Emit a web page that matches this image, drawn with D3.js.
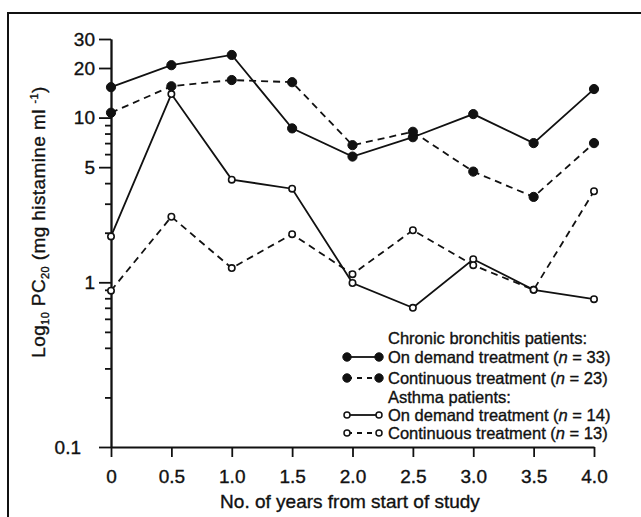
<!DOCTYPE html>
<html>
<head>
<meta charset="utf-8">
<script src="https://cdn.jsdelivr.net/npm/d3@7"></script>
<style>
  body { margin: 0; background: #fff; }
  svg { display: block; font-family: "Liberation Sans", Arial, Helvetica, sans-serif; }
  svg text { stroke: #111; stroke-width: 0.35px; }
</style>
</head>
<body>
<svg width="641" height="517"></svg>
<script>
var years = [0, 0.5, 1.0, 1.5, 2.0, 2.5, 3.0, 3.5, 4.0];
var cbOnDemand = [15.3, 20.8, 24.0, 8.6, 5.8, 7.6, 10.5, 7.0, 14.9];
var cbContinuous = [10.7, 15.5, 16.9, 16.4, 6.8, 8.2, 4.7, 3.3, 7.0];
var asOnDemand = [1.9, 13.9, 4.2, 3.7, 0.99, 0.70, 1.38, 0.90, 0.79];
var asContinuous = [0.89, 2.5, 1.22, 1.96, 1.12, 2.07, 1.27, 0.90, 3.57];
var yMajor = [0.1, 1, 5, 10, 20, 30];
var yMinor = [0.2, 0.3, 0.4, 0.5, 0.6, 0.7, 0.8, 0.9, 2, 3, 4, 6, 7, 8, 9];
var xLabels = ['0', '0.5', '1.0', '1.5', '2.0', '2.5', '3.0', '3.5', '4.0'];

var series = [
	{name: 'On demand treatment', n: 33, values: cbOnDemand, filled: true, dashed: false},
	{name: 'Continuous treatment', n: 23, values: cbContinuous, filled: true, dashed: true},
	{name: 'On demand treatment', n: 14, values: asOnDemand, filled: false, dashed: false},
	{name: 'Continuous treatment', n: 13, values: asContinuous, filled: false, dashed: true}
];

var svg = d3.select('svg');
var xScale = d3.scaleLinear().domain([0, 4]).range([111, 594]);
var yScale = d3.scaleLog().domain([0.1, 30]).range([447, 39]);

// frame
svg.append('path')
	.attr('d', 'M8,517V13H641')
	.attr('fill', 'none')
	.attr('stroke', '#111')
	.attr('stroke-width', 2);

// axes
var yAxis = d3.axisLeft(yScale)
	.tickValues(yMajor)
	.tickFormat(d => d)
	.tickSize(12)
	.tickPadding(4)
	.tickSizeOuter(0);
var yMinorAxis = d3.axisLeft(yScale)
	.tickValues(yMinor)
	.tickFormat('')
	.tickSize(6)
	.tickSizeOuter(0);
var xAxis = d3.axisBottom(xScale)
	.tickValues(years)
	.tickFormat((d, i) => xLabels[i])
	.tickSize(10)
	.tickPadding(13)
	.tickSizeOuter(0);

var gy = svg.append('g').attr('transform', 'translate(111,0)').call(yAxis);
svg.append('g').attr('transform', 'translate(111,0)').call(yMinorAxis);
var gx = svg.append('g').attr('transform', 'translate(0,447)').call(xAxis);

svg.selectAll('.domain, .tick line')
	.attr('stroke', '#111')
	.attr('stroke-width', 1.8);
[gy, gx].forEach(g => g.attr('font-family', null).attr('font-size', 19)
	.selectAll('text').attr('fill', '#111'));
gy.selectAll('.tick text').filter(d => d === 0.1).attr('x', -30);

// lines and markers
var line = d3.line()
	.x((d, i) => xScale(years[i]))
	.y(d => yScale(d));

series.forEach(s => {
	svg.append('path')
		.datum(s.values)
		.attr('d', line)
		.attr('fill', 'none')
		.attr('stroke', '#111')
		.attr('stroke-width', 1.8)
		.attr('stroke-dasharray', s.dashed ? '7,5' : null);
	svg.append('g').selectAll('circle')
		.data(s.values)
		.enter()
		.append('circle')
		.attr('cx', (d, i) => xScale(years[i]))
		.attr('cy', d => yScale(d))
		.attr('r', s.filled ? 4.6 : 3.2)
		.attr('fill', s.filled ? '#111' : '#fff')
		.attr('stroke', '#111')
		.attr('stroke-width', s.filled ? 1 : 1.6);
});

// axis titles
svg.append('text')
	.attr('x', 350)
	.attr('y', 508)
	.attr('text-anchor', 'middle')
	.attr('font-size', 19)
	.attr('fill', '#111')
	.text('No. of years from start of study');

var yTitle = svg.append('text')
	.attr('transform', 'translate(45,222) rotate(-90)')
	.attr('text-anchor', 'middle')
	.attr('font-size', 19)
	.attr('letter-spacing', 0.4)
	.attr('fill', '#111');
yTitle.append('tspan').text('Log');
yTitle.append('tspan').attr('font-size', 11).attr('dy', 4).text('10');
yTitle.append('tspan').attr('dy', -4).text(' PC');
yTitle.append('tspan').attr('font-size', 11).attr('dy', 4).text('20');
yTitle.append('tspan').attr('dy', -4).text(' (mg histamine ml ');
yTitle.append('tspan').attr('font-size', 11).attr('dy', -7).text('-1');
yTitle.append('tspan').attr('dy', 7).text(')');

// legend
var legendRows = [
	{head: 'Chronic bronchitis patients:', y: 338},
	{s: series[0], y: 357},
	{s: series[1], y: 378},
	{head: 'Asthma patients:', y: 397},
	{s: series[2], y: 415},
	{s: series[3], y: 433}
];
var legend = svg.append('g').attr('font-size', 16.5).attr('fill', '#111');
legendRows.forEach(r => {
	var t = legend.append('text').attr('x', 388).attr('y', r.y + 6);
	if (r.head) {
		t.text(r.head);
		return;
	}
	t.append('tspan').text(r.s.name + ' (');
	t.append('tspan').attr('font-style', 'italic').text('n');
	t.append('tspan').text(' = ' + r.s.n + ')');
	legend.append('line')
		.attr('x1', 347).attr('x2', 379)
		.attr('y1', r.y).attr('y2', r.y)
		.attr('stroke', '#111')
		.attr('stroke-width', 1.8)
		.attr('stroke-dasharray', r.s.dashed ? '5,5' : null);
	[347, 379].forEach(cx => legend.append('circle')
		.attr('cx', cx).attr('cy', r.y)
		.attr('r', r.s.filled ? 4.2 : 3)
		.attr('fill', r.s.filled ? '#111' : '#fff')
		.attr('stroke', '#111')
		.attr('stroke-width', r.s.filled ? 1 : 1.5));
});
</script>
</body>
</html>
